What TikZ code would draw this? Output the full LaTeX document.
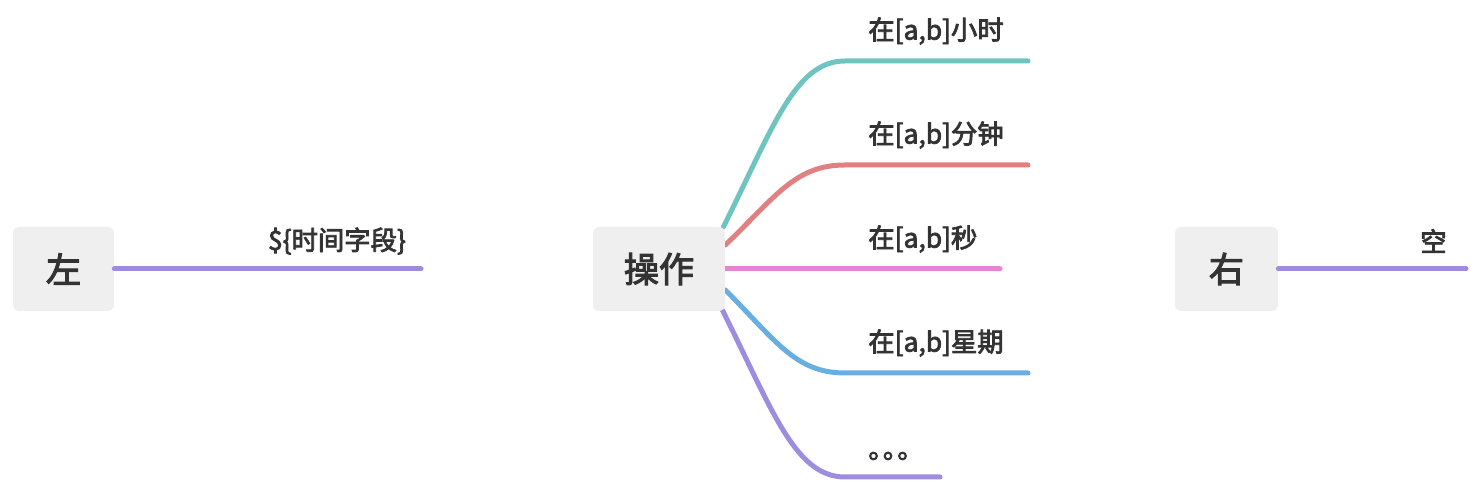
\documentclass[tikz,border=0pt]{standalone}
\usepackage{fontspec}
\setmainfont{Noto Sans CJK SC}[FakeBold=3]
\usetikzlibrary{calc,backgrounds}
\definecolor{ink}{HTML}{333333}
\definecolor{boxbg}{HTML}{EFEFEF}
\definecolor{lnhour}{HTML}{6EC5BF}
\definecolor{lnmin}{HTML}{E17F81}
\definecolor{lnsec}{HTML}{E584D3}
\definecolor{lnweek}{HTML}{69AEE0}
\definecolor{lnmore}{HTML}{9E8CDE}

\begin{document}
\begin{tikzpicture}[x=0.02cm, y=0.02cm,
  topic/.style={fill=boxbg, rounded corners=0.12cm, minimum height=1.68cm, inner sep=0pt, text=ink, font=\fontsize{20}{24}\selectfont},
  leaf/.style={inner sep=0pt, text=ink, font=\fontsize{15}{18}\selectfont},
  branch/.style={line width=0.1cm, line cap=round}]
\useasboundingbox (0,0) rectangle (1477,482);
\node[topic, minimum width=2.64cm] (op) at (659,213) {操作};
% branches, drawn behind the box
\begin{scope}[on background layer]
\foreach \nm/\sx/\sy/\cy/\ey/\ex/\ly/\c/\txt in {hour/-2/42/100/421/1028/30/lnhour/{在[a,b]小时},
    minute/0/24/48/317/1028/30/lnmin/{在[a,b]分钟},
    second/0/0/0/213/1000/30/lnsec/{在[a,b]秒},
    week/0/-21/-50/109/1028/30/lnweek/{在[a,b]星期},
    more/-3/-41/-100/5/940/21/lnmore/{。\kern-.45em。\kern-.45em。}} {
  \coordinate (\nm) at (\ex,\ey);
  \draw[branch, \c] ($(op.east)+(\sx,\sy)$) .. controls +(50,\cy) and +(-50,0) .. (845,\ey) -- (\nm);
  \node[leaf, anchor=west] (\nm-lab) at (868,\ey+\ly) {\txt};
}
\end{scope}
% left and right
\node[topic, minimum width=2.02cm] (left) at (63.5,213) {左};
\coordinate (leftend) at (421,213);
\draw[branch, lnmore] (left.east) -- (leftend);
\node[leaf] (field) at (337,241) {\$\{时间字段\}};
\node[topic, minimum width=2.06cm] (right) at (1226.5,213) {右};
\coordinate (rightend) at (1466,213);
\draw[branch, lnmore] (right.east) -- (rightend);
\node[leaf, anchor=west] (empty) at (1420,241) {空};
\end{tikzpicture}
\end{document}
